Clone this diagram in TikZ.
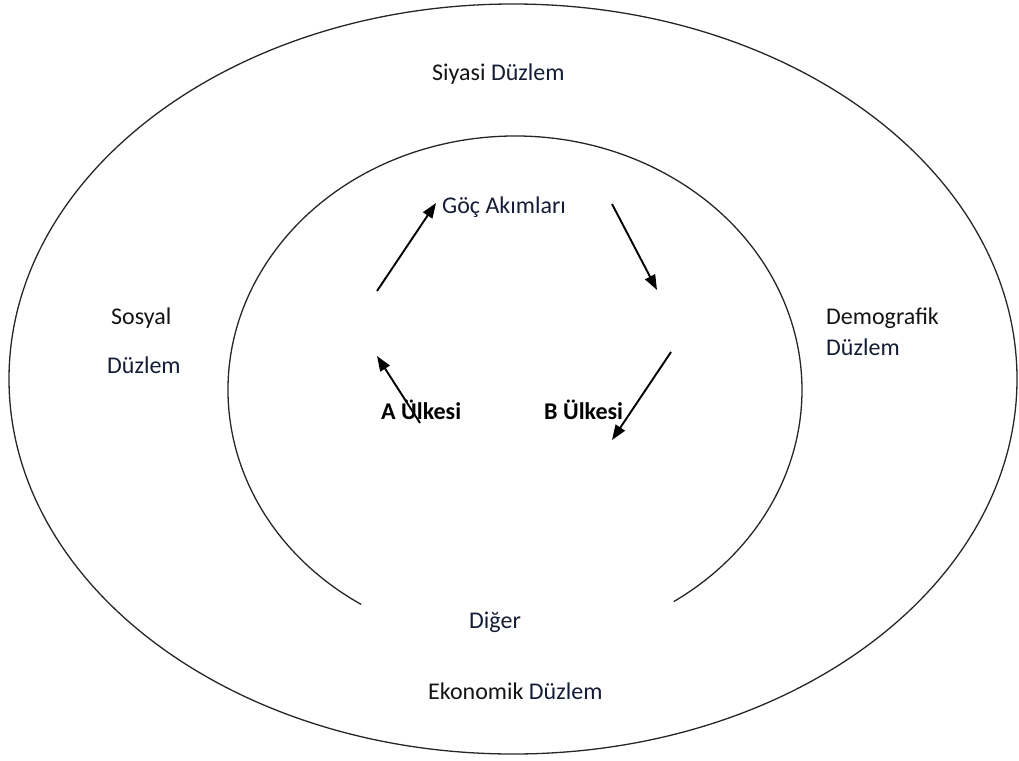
\documentclass[tikz,border=0pt]{standalone}
\usepackage{fontspec}
\setmainfont{Carlito}
\usetikzlibrary{arrows.meta}
\definecolor{txtdark}{HTML}{141414}
\definecolor{txtnavy}{HTML}{151C36}
\begin{document}
\begin{tikzpicture}[x=1pt,y=-1pt,
  lbl/.style={anchor=base west,inner sep=0pt,font=\fontsize{24}{28}\selectfont,text=txtdark},
  navy/.style={text=txtnavy},
  country/.style={anchor=base west,inner sep=0pt,font=\fontsize{24}{28}\selectfont\bfseries,text=black},
  ring/.style={draw=black!85,line width=1.3pt},
  flow/.style={draw=black,line width=1.9pt,-{Triangle[length=15pt,width=11pt]}}]
\useasboundingbox (0,0) rectangle (1019,760);
% outer ellipse
\draw[ring] (513,379) ellipse [x radius=504, y radius=375];
% inner open arc
\draw[ring] (515,390) ++(122.4:287 and 254) arc[start angle=122.4, end angle=416.4, x radius=287, y radius=254];
% labels
\node[lbl] (siyasi) at (432,80) {Siyasi \textcolor{txtnavy}{Düzlem}};
\node[lbl] (sosyal) at (111,324) {Sosyal};
\node[lbl,navy] (sosyal2) at (107,373) {Düzlem};
\node[lbl] (demo) at (826,324) {Demografik};
\node[lbl,navy] (demo2) at (826,355) {Düzlem};
\node[lbl,navy] (goc) at (442,213) {Göç Akımları};
\node[country] (A) at (381,419) {A Ülkesi};
\node[country] (B) at (544,419) {B Ülkesi};
\node[lbl,navy] (diger) at (469,628) {Diğer};
\node[lbl] (eko) at (428,699) {Ekonomik \textcolor{txtnavy}{Düzlem}};
% arrow end points
\coordinate (a1s) at (377,291); \coordinate (a1e) at (436,203);
\coordinate (a2s) at (612,204); \coordinate (a2e) at (657,290);
\coordinate (a3s) at (671,352); \coordinate (a3e) at (612,440);
\coordinate (a4s) at (420,423); \coordinate (a4e) at (377,356);
\draw[flow] (a1s) -- (a1e);
\draw[flow] (a2s) -- (a2e);
\draw[flow] (a3s) -- (a3e);
\draw[flow] (a4s) -- (a4e);
\end{tikzpicture}
\end{document}
